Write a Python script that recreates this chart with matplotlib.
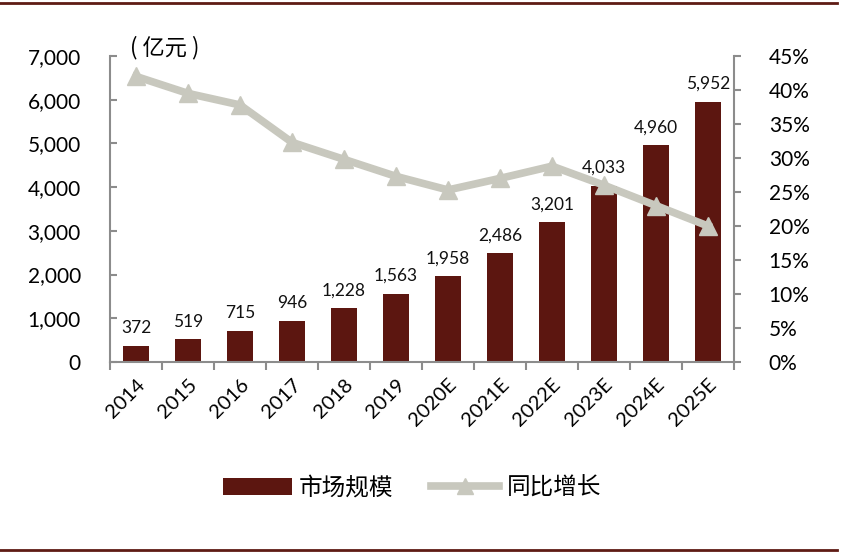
import matplotlib
matplotlib.use('Agg')
import matplotlib.pyplot as plt
from matplotlib.lines import Line2D
import numpy as np

plt.rcParams['font.family'] = ['Lato', 'Noto Sans CJK SC', 'DejaVu Sans']

# 数据
years = ['2014', '2015', '2016', '2017', '2018', '2019',
         '2020E', '2021E', '2022E', '2023E', '2024E', '2025E']
market = [372, 519, 715, 946, 1228, 1563, 1958, 2486, 3201, 4033, 4960, 5952]
growth = [42.0, 39.5, 37.8, 32.3, 29.8, 27.3, 25.3, 27.0, 28.8, 26.0, 23.0, 20.0]

bar_color = '#5C1610'
line_color = '#C8C8BE'
spine_color = '#8C8C8C'

fig = plt.figure(figsize=(8.42, 5.56), dpi=100)
ax = fig.add_axes([110 / 842, 1 - 362 / 556, (734 - 110) / 842, (362 - 56) / 556])
ax2 = ax.twinx()

x = np.arange(len(years))
bars = ax.bar(x, market, width=0.5, color=bar_color, label='市场规模', zorder=2)
ax.bar_label(bars, labels=[f'{v:,}' for v in market], padding=7, fontsize=12.5, color='#111111')

ax2.plot(x, growth, color=line_color, lw=5.5, marker='^', markersize=13,
         markeredgecolor=line_color, label='同比增长', solid_joinstyle='round')

# 坐标轴
ax.set_xlim(-0.5, len(years) - 0.5)
ax.set_ylim(0, 7000)
ax.set_yticks(range(0, 7001, 1000))
ax.set_yticklabels([f'{v:,}' for v in range(0, 7001, 1000)], fontsize=15)
ax2.set_ylim(0, 45)
ax2.set_yticks(range(0, 46, 5))
ax2.set_yticklabels([f'{v}%' for v in range(0, 46, 5)], fontsize=15)

ax.set_xticks(x)
ax.set_xticklabels(years, fontsize=14.5, rotation=45, ha='right', va='top',
                   rotation_mode='anchor')
ax.set_xticks(np.arange(-0.5, len(years)), minor=True)
ax.tick_params(axis='x', which='major', length=0, pad=10)
ax.tick_params(axis='x', which='minor', length=6, width=1.5, color=spine_color, direction='out')
ax.tick_params(axis='y', length=5, width=1.5, color=spine_color, direction='in', pad=21)
ax2.tick_params(axis='y', length=5, width=1.5, color=spine_color, direction='out', pad=20)

for a in (ax, ax2):
    a.spines['top'].set_visible(False)
    for s in ('left', 'right', 'bottom'):
        a.spines[s].set_color(spine_color)
        a.spines[s].set_linewidth(1.5)
ax.spines['right'].set_visible(False)
ax2.spines['left'].set_visible(False)
ax2.spines['bottom'].set_visible(False)

fig.text(130 / 842, 1 - 48 / 556, '( 亿元 )', fontsize=16, va='center', ha='left',
         family=['Noto Sans CJK SC', 'DejaVu Sans'])

# 图例
handles = [bars, Line2D([], [], color=line_color, lw=5.5, marker='^', markersize=12)]
fig.legend(handles, ['市场规模', '同比增长'], loc='center', ncol=2,
           bbox_to_anchor=(412 / 842, 1 - 488 / 556), frameon=False,
           prop={'family': ['Noto Sans CJK SC', 'DejaVu Sans'], 'size': 17},
           handlelength=2.9, handletextpad=0.3, columnspacing=1.6)

# 上下边线
fig.add_artist(Line2D([0, 837 / 842], [1 - 3 / 556, 1 - 3 / 556], color='#5E1B14', lw=2))
fig.add_artist(Line2D([0, 837 / 842], [1 - 550 / 556, 1 - 550 / 556], color='#5E1B14', lw=2))

fig.savefig('out.png', dpi=100)
